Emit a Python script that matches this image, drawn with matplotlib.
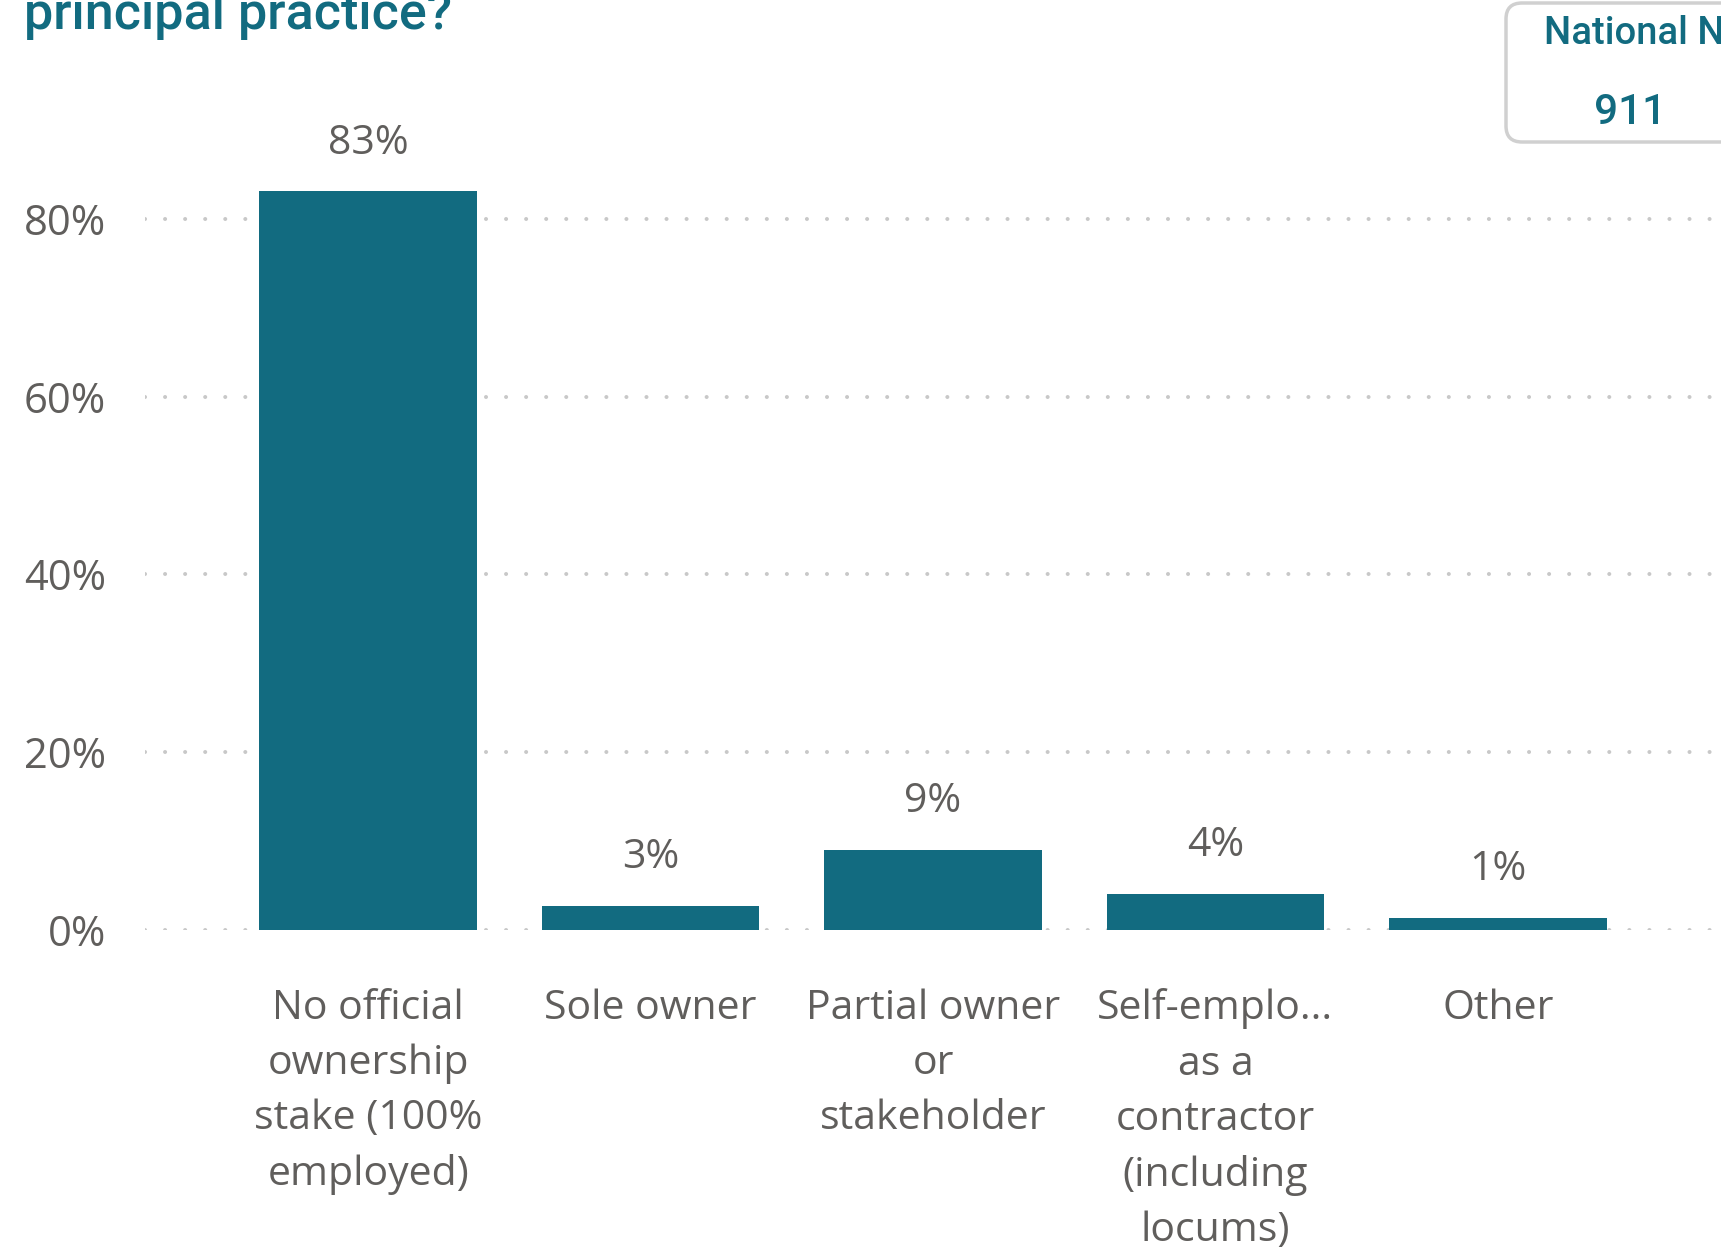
import matplotlib.pyplot as plt
from matplotlib.patches import FancyBboxPatch
from matplotlib.transforms import IdentityTransform

# survey answers and share of respondents (%)
categories = [
    "No official\nownership\nstake (100%\nemployed)",
    "Sole owner",
    "Partial owner\nor\nstakeholder",
    "Self-emplo...\nas a\ncontractor\n(including\nlocums)",
    "Other",
]
shares = [83.1, 2.7, 9.0, 4.1, 1.4]
y_ticks = [0, 20, 40, 60, 80]
national_n = 911

bar_color = "#126B80"
text_gray = "#605E5C"
teal = "#126B80"
body_font = ["Open Sans", "DejaVu Sans"]
head_font = ["Roboto", "DejaVu Sans"]

W, H = 1721, 1251
fig = plt.figure(figsize=(W / 100, H / 100), dpi=100)
ax = fig.add_axes([145 / W, 1 - 930 / H, 1 - 145 / W, 800 / H])

x = range(len(categories))
ax.bar(x, shares, width=0.77, color=bar_color, zorder=3)
for xi, v in zip(x, shares):
    ax.annotate(f"{v:.0f}%", (xi, v), xytext=(0, 20), textcoords="offset points",
                ha="center", va="bottom", fontsize=29.5, color=text_gray,
                family=body_font, annotation_clip=False)

ax.set_xlim(-0.79, 4.79)
ax.set_ylim(0, 90)
ax.set_yticks(y_ticks)
ax.set_yticklabels([f"{t}%" for t in y_ticks], fontsize=30, color=text_gray,
                   family=body_font)
ax.set_xticks(list(x))
ax.set_xticklabels(categories, fontsize=29.5, color=text_gray, family=body_font,
                   linespacing=1.485)
ax.tick_params(axis="both", length=0)
ax.tick_params(axis="y", pad=28)
ax.tick_params(axis="x", pad=42)

# dotted horizontal grid
ax.grid(axis="y", linestyle=(0, (0.01, 4.97)), linewidth=2.9, color="#C8C8C8", zorder=0)
for gl in ax.get_ygridlines():
    gl.set_dash_capstyle("round")
ax.set_axisbelow(True)
for s in ax.spines.values():
    s.set_visible(False)

# heading (top line cut off by the canvas)
fig.text(24 / W, 1 - 29 / H, "principal practice?", fontsize=37.5, color=teal,
         family=head_font, fontweight="medium", va="baseline", ha="left")

# sample size card
card = FancyBboxPatch((1506, H - 142), 320, 139,
                      boxstyle="round,pad=0,rounding_size=16",
                      transform=IdentityTransform(), facecolor="white",
                      edgecolor="#D0D0D0", linewidth=2.5, zorder=5)
fig.patches.append(card)
fig.text(1544 / W, 1 - 44 / H, "National N", fontsize=27.5, color=teal,
         family=head_font, fontweight="medium", va="baseline", ha="left", zorder=6)
fig.text(1630 / W, 1 - 124 / H, str(national_n), fontsize=30.5, color=teal,
         family=head_font, fontweight="medium", va="baseline", ha="center", zorder=6)

fig.savefig("out.png", dpi=100)
